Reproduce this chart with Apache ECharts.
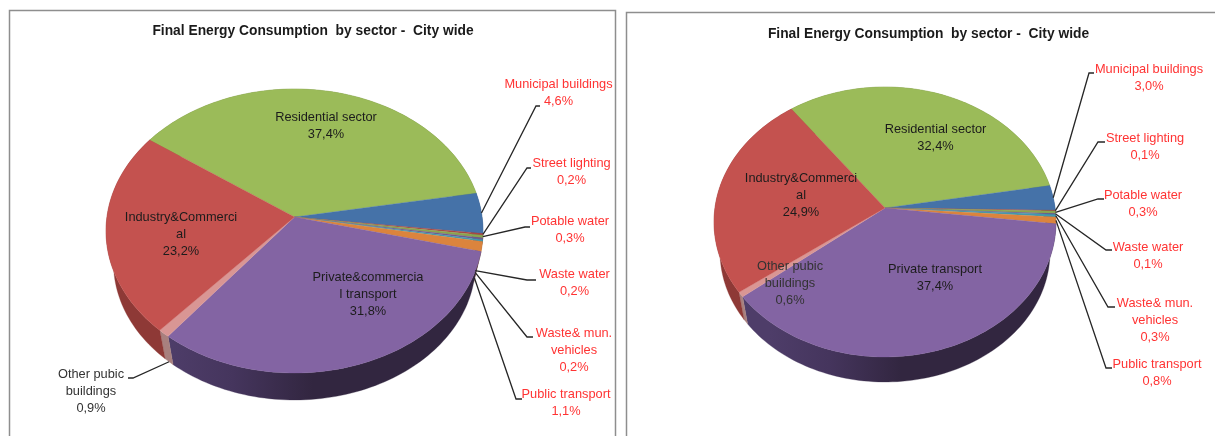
<!DOCTYPE html>
<html>
<head>
<meta charset="utf-8">
<style>html,body{margin:0;padding:0;background:#fff}#chart{width:1215px;height:436px;filter:blur(0.45px)}</style>
<script src="https://cdn.jsdelivr.net/npm/echarts@6/dist/echarts.min.js"></script>
</head>
<body>
<div id="chart"></div>
<script>
// ---- data ----
const titleText = 'Final Energy Consumption  by sector -  City wide';
const categoriesLeft = ['Residential sector', 'Municipal buildings', 'Street lighting', 'Potable water', 'Waste water',
  'Waste& mun.\nvehicles', 'Public transport', 'Private&commercia\nl transport', 'Other pubic\nbuildings', 'Industry&Commerci\nal'];
const valuesLeft = [37.4, 4.6, 0.2, 0.3, 0.2, 0.2, 1.1, 31.8, 0.9, 23.2];
const categoriesRight = ['Residential sector', 'Municipal buildings', 'Street lighting', 'Potable water', 'Waste water',
  'Waste& mun.\nvehicles', 'Public transport', 'Private transport', 'Other pubic\nbuildings', 'Industry&Commerci\nal'];
const valuesRight = [32.4, 3.0, 0.1, 0.3, 0.1, 0.3, 0.8, 37.4, 0.6, 24.9];

// ---- styles ----
const topColors = ['#9BBB59', '#4572A8', '#AA4643', '#89A54E', '#71588F', '#4198AF', '#DB843D', '#8364A3', '#D99694', '#C4524F'];
const sideColors = ['#6f8a3c', '#2f5080', '#7a2f2d', '#627838', '#4f3d66', '#2c6b7c', '#a85f28', null, '#A8807E', '#8E3936'];
const labelColors = ['#1c1c1c', '#ff3333', '#ff3333', '#ff3333', '#ff3333', '#ff3333', '#ff3333', '#1c1c1c', '#333', '#1c1c1c'];
const FONT = '12.8px "Liberation Sans", Arial, sans-serif';

// ---- layout: perspective ellipses of the top and bottom faces, label centres, leader elbows ----
const layoutLeft = {
  startDeg: -54.7,
  top: { cx: 294.5, cy: 231, rx: 188.5, ry: 142, q: -0.0986 },
  bottom: { cx: 294.5, cy: 263, rx: 181, ry: 137, q: -0.0986 },
  labels: [[326, 125.5], [558.5, 93], [571.5, 172], [570, 230], [574.5, 283], [574, 350], [566, 403], [368, 294], [91, 391], [181, 234]],
  elbows: [null, [[536, 106], [540, 106]], [[527, 168], [531, 168]], [[525, 227], [530, 227]], [[527, 280], [536, 280]],
    [[527, 337], [533, 337]], [[516, 399], [522, 399]], null, [[133, 378], [128, 378]], null],
  anchorFace: [null, 'top', 'top', 'top', 'bottom', 'bottom', 'bottom', null, 'bottom', null]
};
const layoutRight = {
  startDeg: -36.6,
  top: { cx: 885, cy: 222, rx: 171, ry: 135, q: -0.104 },
  bottom: { cx: 885, cy: 252, rx: 165, ry: 130, q: -0.104 },
  labels: [[935.5, 137.5], [1149, 77.5], [1145, 146.5], [1143, 203.5], [1148, 255.5], [1155, 320], [1157, 372.5], [935, 277.5], [790, 283], [801, 195]],
  elbows: [null, [[1089, 73], [1094, 73]], [[1098, 142], [1105, 142]], [[1098, 199], [1104, 199]], [[1106, 250], [1112, 250]],
    [[1108, 307], [1115, 307]], [[1106, 368], [1112, 368]], null, null, null],
  anchorFace: [null, 'top', 'top', 'top', 'top', 'top', 'top', null, null, null]
};

// ---- projection: compass angle on a circle -> point on a perspective ellipse ----
function project(face, deg) {
  const t = deg * Math.PI / 180, u = Math.sin(t), v = -Math.cos(t), q = face.q, w = 1 + q * v;
  return [face.cx + face.rx * Math.sqrt(1 - q * q) * u / w, face.cy + face.ry * (v + q) / w];
}
function arc(face, a0, a1) {
  const n = Math.max(2, Math.ceil(Math.abs(a1 - a0) / 1.5)), pts = [];
  for (let i = 0; i <= n; i++) pts.push(project(face, a0 + (a1 - a0) * i / n));
  return pts;
}
function apex(face) { return [face.cx, face.cy + face.ry * face.q]; }
function angles(layout, api, total) {
  const a0 = layout.startDeg + api.value(1) / total * 360;
  return [a0, a0 + api.value(0) / total * 360];
}
function rows(values) {
  let sum = 0;
  return values.map(v => { const r = [v, sum]; sum += v; return r; });
}
function pct(v) { return v.toFixed(1).replace('.', ',') + '%'; }

function pieSeries(values, names, layout) {
  const total = values.reduce((a, b) => a + b, 0), data = rows(values);
  const frontX0 = layout.bottom.cx - layout.bottom.rx * 0.7, frontX1 = layout.bottom.cx + layout.bottom.rx * 0.1;
  const base = { type: 'custom', coordinateSystem: 'none', silent: true, animation: false, data: data };
  const sides = Object.assign({}, base, {
    z: 1,
    renderItem: function (params, api) {
      const i = params.dataIndex, a = angles(layout, api, total);
      const pts = arc(layout.top, a[0], a[1]).concat(arc(layout.bottom, a[1], a[0]));
      const fill = sideColors[i] || { type: 'linear', global: true, x: frontX0, y: 0, x2: frontX1, y2: 0,
        colorStops: [{ offset: 0, color: '#4E3D69' }, { offset: 0.45, color: '#45355D' }, { offset: 1, color: '#322640' }] };
      return { type: 'polygon', shape: { points: pts }, style: { fill: fill, stroke: fill, lineWidth: 0.3 } };
    }
  });
  const tops = Object.assign({}, base, {
    z: 2,
    renderItem: function (params, api) {
      const i = params.dataIndex, a = angles(layout, api, total);
      const pts = [apex(layout.top)].concat(arc(layout.top, a[0], a[1]));
      return { type: 'polygon', shape: { points: pts }, style: { fill: topColors[i], stroke: topColors[i], lineWidth: 0.3 } };
    }
  });
  const labels = Object.assign({}, base, {
    z: 3,
    renderItem: function (params, api) {
      const i = params.dataIndex, a = angles(layout, api, total), children = [];
      const elbow = layout.elbows[i];
      if (elbow) {
        const face = layout.anchorFace[i] === 'bottom' ? layout.bottom : layout.top;
        children.push({ type: 'polyline', shape: { points: [project(face, (a[0] + a[1]) / 2)].concat(elbow) },
          style: { fill: 'none', stroke: '#262626', lineWidth: 1.3 } });
      }
      const c = layout.labels[i];
      children.push({ type: 'text', style: { text: names[i] + '\n' + pct(api.value(0)), x: c[0], y: c[1],
        align: 'center', verticalAlign: 'middle', font: FONT, lineHeight: 17, fill: labelColors[i] } });
      return { type: 'group', children: children };
    }
  });
  return [sides, tops, labels];
}

const chart = echarts.init(document.getElementById('chart'), null, { renderer: 'canvas' });
const titleStyle = { fontFamily: '"Liberation Sans", Arial, sans-serif', fontWeight: 'bold', fontSize: 13.8, color: '#1a1a1a' };
chart.setOption({
  animation: false,
  backgroundColor: '#fff',
  title: [
    { text: titleText, left: 313, top: 24, textAlign: 'center', padding: 0, textStyle: titleStyle },
    { text: titleText, left: 928.5, top: 27, textAlign: 'center', padding: 0, textStyle: titleStyle }
  ],
  graphic: [
    { type: 'polyline', silent: true, shape: { points: [[9.5, 436], [9.5, 10.5], [615.5, 10.5], [615.5, 436]] }, style: { fill: 'none', stroke: '#8e8e8e', lineWidth: 1.5 } },
    { type: 'polyline', silent: true, shape: { points: [[626.5, 436], [626.5, 12.5], [1215, 12.5]] }, style: { fill: 'none', stroke: '#8e8e8e', lineWidth: 1.5 } }
  ],
  series: pieSeries(valuesLeft, categoriesLeft, layoutLeft).concat(pieSeries(valuesRight, categoriesRight, layoutRight))
});
</script>
</body>
</html>
